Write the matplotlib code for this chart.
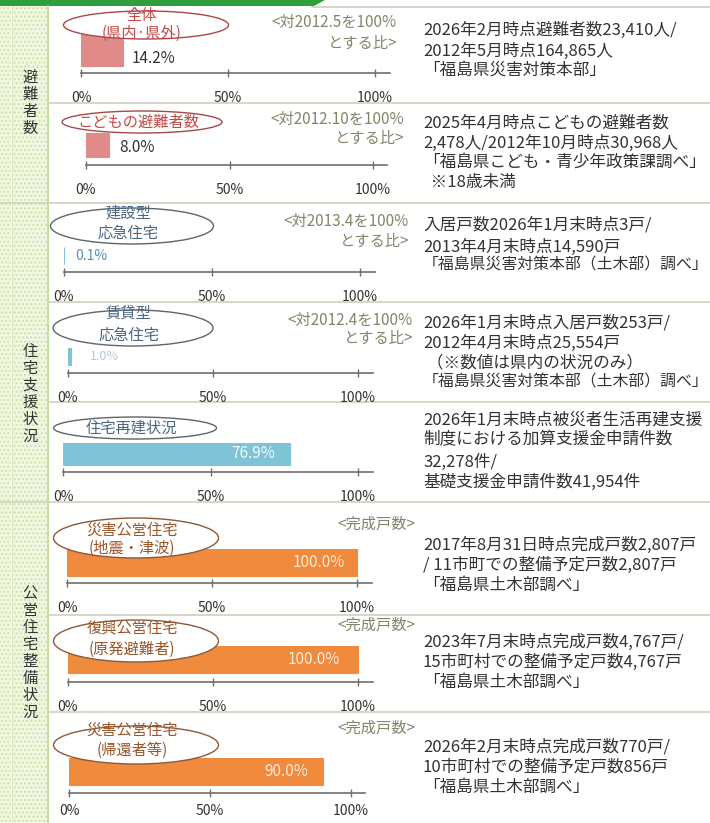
import matplotlib
matplotlib.use('Agg')
import matplotlib.pyplot as plt
from matplotlib.patches import Ellipse, Rectangle, Polygon

plt.rcParams['font.family'] = ['Noto Sans CJK JP', 'DejaVu Sans']

# ---------------- data ----------------
sections = ['避難者数', '住宅支援状況', '公営住宅整備状況']
row_titles = [['全体', '(県内·県外)'], ['こどもの避難者数'], ['建設型', '応急住宅'],
              ['賃貸型', '応急住宅'], ['住宅再建状況'], ['災害公営住宅', '(地震・津波)'],
              ['復興公営住宅', '(原発避難者)'], ['災害公営住宅', '(帰還者等)']]
values = [14.2, 8.0, 0.1, 1.0, 76.9, 100.0, 100.0, 90.0]
value_labels = ['14.2%', '8.0%', '0.1%', '1.0%', '76.9%', '100.0%', '100.0%', '90.0%']
tick_values = [0, 50, 100]
tick_labels = ['0%', '50%', '100%']
notes = [['<対2012.5を100%', 'とする比>'], ['<対2012.10を100%', 'とする比>'],
         ['<対2013.4を100%', 'とする比>'], ['<対2012.4を100%', 'とする比>'], [],
         ['<完成戸数>'], ['<完成戸数>'], ['<完成戸数>']]
descriptions = [
    ['2026年2月時点避難者数23,410人/', '2012年5月時点164,865人', '「福島県災害対策本部」'],
    ['2025年4月時点こどもの避難者数', '2,478人/2012年10月時点30,968人',
     '「福島県こども・青少年政策課調べ」', '  ※18歳未満'],
    ['入居戸数2026年1月末時点3戸/', '2013年4月末時点14,590戸', '「福島県災害対策本部（土木部）調べ」'],
    ['2026年1月末時点入居戸数253戸/', '2012年4月末時点25,554戸', ' （※数値は県内の状況のみ）',
     '「福島県災害対策本部（土木部）調べ」'],
    ['2026年1月末時点被災者生活再建支援', '制度における加算支援金申請件数', '32,278件/',
     '基礎支援金申請件数41,954件'],
    ['2017年8月31日時点完成戸数2,807戸', '/ 11市町での整備予定戸数2,807戸', '「福島県土木部調べ」'],
    ['2023年7月末時点完成戸数4,767戸/', '15市町村での整備予定戸数4,767戸', '「福島県土木部調べ」'],
    ['2026年2月末時点完成戸数770戸/', '10市町村での整備予定戸数856戸', '「福島県土木部調べ」'],
]

# ---------------- layout (pixels) ----------------
W, H = 710, 823
row_section = [0, 0, 1, 1, 1, 2, 2, 2]
bar_colors = ['#e08a8a', '#7fc3d6', '#f08a3c']
title_colors = ['#c24a48', '#4a6680', '#9a5528']
ell_edges = ['#a84848', '#5a6670', '#8a5a3a']
# x0, x100, bar_top, bar_bottom, axis_line_y
geom = [(81, 375, 33, 66, 73), (86, 373, 133, 157, 165), (64, 360, 247, 264, 272),
        (68, 358, 348, 365, 373), (63, 358, 443, 465, 472), (67, 357, 549, 576, 583),
        (68, 358, 646, 673, 682), (69, 351, 758, 785, 793)]
tick_pads = [10, 10, 10, 10, 10, 10, 10, 5]
ellipses = [(146, 25, 165, 28), (142, 122, 160, 22), (132, 226, 163, 36), (133, 328, 160, 36),
            (135, 428, 163, 22), (136, 538, 165, 40), (136, 641, 165, 42), (136, 745, 165, 38)]
title_y = [[15, 33], [122], [213, 233], [313, 335], [428], [530, 548], [628, 649], [730, 750]]
note_pos = [(397, [22, 43]), (404, [119, 138]), (409, [221, 241]), (413, [320, 338]),
            (0, []), (415, [524]), (415, [625]), (415, [728])]
desc_y = [[30, 51, 70], [123, 143, 162, 182], [225, 247, 265], [323, 343, 363, 382],
          [420, 440, 462, 482], [545, 565, 585], [642, 662, 682], [747, 767, 787]]
label_off = [(9, 8.5, 'left'), (10, 2, 'left'), (10.5, 0, 'left'), (19, 0, 'left'),
             (-15, 0, 'right'), (-12, 0, 'right'), (-18, 0, 'right'), (-15, 0, 'right')]
label_colors = ['#333333', '#333333', '#5b8db0', '#b8c8d4', '#f4fbfd', '#fdebdc', '#fdebdc', '#fdebdc']
label_sizes = [11, 11, 10, 9, 11, 11, 11, 11]
section_centers = [103, 394, 653]
section_bounds = [(6, 203), (203, 502), (502, 823)]
row_lines = [103, 302, 402, 615, 712]
section_lines = [203, 502]

fig = plt.figure(figsize=(W / 100, H / 100), dpi=100)
fig.patch.set_facecolor('white')

bg = fig.add_axes([0, 0, 1, 1], zorder=0)
bg.set_xlim(0, W)
bg.set_ylim(H, 0)
bg.axis('off')

# header band
bg.add_patch(Polygon([(0, 0), (325, 0), (314, 6), (0, 6)], closed=True, color='#2f9e3c', lw=0))
bg.plot([312, W], [6.5, 6.5], color='#c9cfbd', lw=1.2)

# left strip with dotted pattern
for (t, b) in section_bounds:
    bg.add_patch(Rectangle((0, t), 11, b - t, facecolor='#f2f7e4', edgecolor='#cfe2a6',
                           hatch='....', lw=0))
    bg.add_patch(Rectangle((12, t), 35, b - t, facecolor='#f2f7e4', edgecolor='#cfe2a6',
                           hatch='....', lw=0))
bg.plot([47.5, 47.5], [6, H], color='#b9d88f', lw=1.2)
bg.plot([11.5, 11.5], [6, H], color='#dde8c8', lw=0.8)

for y in row_lines:
    bg.plot([48, W], [y, y], color='#d6d3c2', lw=1.3)
for y in section_lines:
    bg.plot([0, W], [y, y], color='#d6d3c2', lw=1.3)

# vertical section labels
for name, cy in zip(sections, section_centers):
    n = len(name)
    for i, ch in enumerate(name):
        bg.text(30, cy + (i - (n - 1) / 2) * 17, ch, ha='center', va='center',
                fontsize=11, color='#333333')

# notes and descriptions
renderer = fig.canvas.get_renderer()
for i in range(8):
    rx, ys = note_pos[i]
    for txt, y in zip(notes[i], ys):
        bg.text(rx, y, txt, ha='right', va='center', fontsize=11, color='#7d8868')
    for txt, y in zip(descriptions[i], desc_y[i]):
        t = bg.text(423, y, txt, ha='left', va='center', fontsize=12, color='#333333')
        ext = t.get_window_extent(renderer=renderer)
        if ext.x1 > W - 2:
            avail = (W - 2) - ext.x0
            t.set_fontsize(12 * avail / ext.width)

# bar axes
for i in range(8):
    x0, x100, bt, bb, ly = geom[i]
    xmax = 105
    wpx = (x100 - x0) * xmax / 100
    hpx = ly - bt
    ax = fig.add_axes([x0 / W, 1 - ly / H, wpx / W, hpx / H], zorder=2)
    ax.patch.set_alpha(0)
    bh = bb - bt
    gap = ly - bb
    c = bar_colors[row_section[i]]
    ax.barh([0], [values[i]], height=1.0, color=c, edgecolor=c, lw=0.8, align='center')
    ax.set_xlim(0, xmax)
    ax.set_ylim(-0.5 - gap / bh, 0.5)
    for s in ['left', 'top', 'right']:
        ax.spines[s].set_visible(False)
    ax.spines['bottom'].set_color('#6e6e6e')
    ax.spines['bottom'].set_linewidth(1.2)
    ax.set_yticks([])
    ax.set_xticks(tick_values)
    ax.set_xticklabels(tick_labels)
    ax.tick_params(axis='x', direction='inout', length=6, width=1, color='#6e6e6e',
                   labelsize=10, labelcolor='#333333', pad=tick_pads[i])
    dx, dy, ha = label_off[i]
    ax.annotate(value_labels[i], xy=(values[i], 0), xytext=(dx * 0.72, -dy * 0.72),
                textcoords='offset points', ha=ha, va='center', fontsize=label_sizes[i],
                color=label_colors[i])

# overlay ellipses with titles
ov = fig.add_axes([0, 0, 1, 1], zorder=5)
ov.set_xlim(0, W)
ov.set_ylim(H, 0)
ov.axis('off')
ov.patch.set_alpha(0)
for i in range(8):
    cx, cy, ew, eh = ellipses[i]
    sec = row_section[i]
    ov.add_patch(Ellipse((cx, cy), ew, eh, facecolor='white', edgecolor=ell_edges[sec], lw=1.0))
    for txt, y in zip(row_titles[i], title_y[i]):
        ov.text(cx - 4, y, txt, ha='center', va='center', fontsize=11, color=title_colors[sec])

fig.savefig('out.png', dpi=100)
